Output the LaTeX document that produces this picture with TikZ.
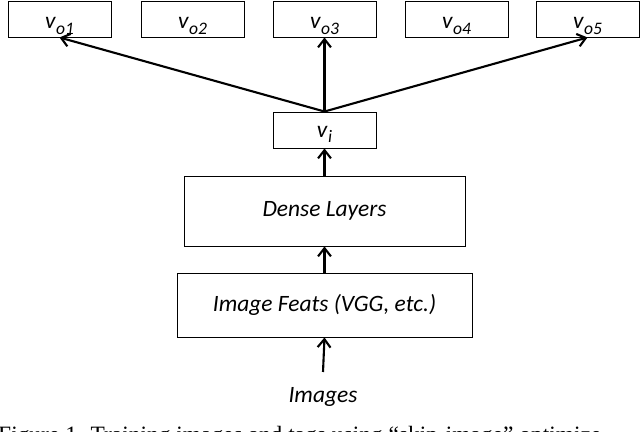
\documentclass[tikz,border=0pt]{standalone}
\usepackage{fontspec}
\setmainfont{Carlito}
\newfontfamily\capfont{Liberation Serif}
\usepackage{tikz}
\usetikzlibrary{arrows.meta,positioning}
\newcommand\vlab[1]{v\kern0.5pt\raisebox{-4.5pt}{\fontsize{15}{17}\selectfont #1}}
\tikzset{
  box/.style    ={draw,line width=0.8pt,align=center,inner sep=2pt,
                  font=\fontsize{20}{24}\selectfont\itshape},
  outbox/.style ={box,minimum width=3.09cm,minimum height=1.08cm,text height=17pt,text depth=0pt},
  flow/.style   ={-{Straight Barb[length=7pt,width=11pt,line width=1.8pt]},line width=1.8pt},
}

\begin{document}
\begin{tikzpicture}[x=0.03cm,y=-0.03cm]
  \useasboundingbox (0,0) rectangle (640,432);
  % output vectors
  \foreach \k/\x in {1/59.5,2/192.5,3/324.5,4/456.5,5/587.5}
    \node[outbox] (vo\k) at (\x,19) {\vlab{o\k}};
  % encoder stack
  \node[box,minimum width=3.09cm,minimum height=1.08cm,text height=13pt,text depth=0pt] (vi) at (324.5,130) {\vlab{i}};
  \node[box,minimum width=8.43cm,minimum height=2.1cm] (dense) at (324.5,211) {Dense Layers};
  \node[box,minimum width=8.85cm,minimum height=1.92cm] (feats) at (324.5,305) {Image Feats (VGG, etc.)};
  \node[font=\fontsize{20}{24}\selectfont\itshape] (img) at (323,397) {Images};
  \coordinate (src) at (323,372);
  % caption (cut off at the bottom)
  \node[anchor=base west,inner sep=0pt,font=\capfont\fontsize{20}{24}\selectfont] (cap) at (-2,443)
    {Figure 1. Training images and tags using “skip-image” optimize};
  \foreach \k in {1,3,5} \draw[flow] (vi.north) -- (vo\k.south);
  \draw[flow] (dense.north) -- (vi.south);
  \draw[flow] (feats.north) -- (dense.south);
  \draw[flow] (src) -- (feats.south);
\end{tikzpicture}
\end{document}
